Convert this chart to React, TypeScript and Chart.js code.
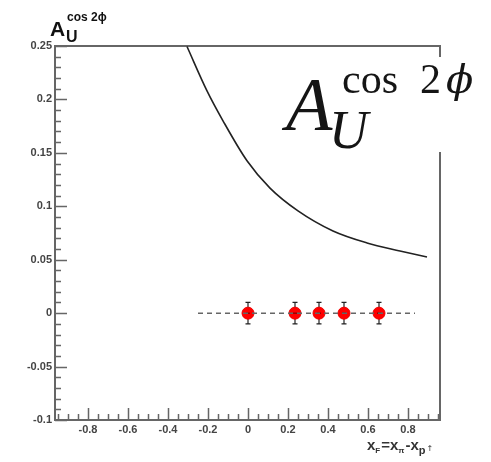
import React, { useEffect, useRef } from "react";
import { Chart, registerables } from "chart.js";

Chart.register(...registerables);

// ---- data ----
const curveX = [-0.305, -0.205, -0.125, -0.005, 0.11, 0.25, 0.425, 0.595, 0.76, 0.895];
const curveY = [0.2495, 0.208, 0.18, 0.1426, 0.117, 0.0957, 0.0769, 0.0657, 0.0582, 0.0525];
const pointX = [0.0, 0.235, 0.355, 0.48, 0.655];
const pointY = [0, 0, 0, 0, 0];
const pointErr = [0.01, 0.01, 0.01, 0.01, 0.01];
const dashX = [-0.25, 0.835];
const dashY = [0, 0];
const xTickValues = [-0.8, -0.6, -0.4, -0.2, 0, 0.2, 0.4, 0.6, 0.8];
const xTickLabels = ["-0.8", "-0.6", "-0.4", "-0.2", "0", "0.2", "0.4", "0.6", "0.8"];
const yTickValues = [-0.1, -0.05, 0, 0.05, 0.1, 0.15, 0.2, 0.25];
const yTickLabels = ["-0.1", "-0.05", "0", "0.05", "0.1", "0.15", "0.2", "0.25"];
const X_MIN = -0.965;
const X_MAX = 0.96;
const Y_MIN = -0.1;
const Y_MAX = 0.25;

const framePlugin = {
  id: "framePlugin",
  beforeDatasetsDraw(chart: any) {
    const { ctx, chartArea, scales } = chart;
    const xs = scales.x;
    const ys = scales.y;
    ctx.save();
    ctx.strokeStyle = "#666";
    ctx.beginPath();
    for (let i = -10; i <= 25; i++) {
      const v = i / 100;
      const major = i % 5 === 0;
      const py = Math.round(ys.getPixelForValue(v)) + 0.5;
      ctx.moveTo(chartArea.left, py);
      ctx.lineTo(chartArea.left + (major ? 12 : 6), py);
    }
    for (let i = -19; i <= 19; i++) {
      const v = i * 0.05;
      if (v < X_MIN || v > X_MAX) continue;
      const major = i % 4 === 0;
      const px = Math.round(xs.getPixelForValue(v)) + 0.5;
      ctx.moveTo(px, chartArea.bottom);
      ctx.lineTo(px, chartArea.bottom - (major ? 12 : 6));
    }
    ctx.lineWidth = 1.5;
    ctx.stroke();
    ctx.lineWidth = 2;
    ctx.strokeRect(chartArea.left, chartArea.top, chartArea.right - chartArea.left, chartArea.bottom - chartArea.top);
    ctx.restore();
  },
  beforeDatasetDraw(chart: any, args: any) {
    if (args.index !== 2) return;
    const { ctx, scales } = chart;
    ctx.save();
    ctx.strokeStyle = "#222";
    ctx.lineWidth = 1.2;
    ctx.beginPath();
    pointX.forEach((x, i) => {
      const px = scales.x.getPixelForValue(x);
      const top = scales.y.getPixelForValue(pointY[i] + pointErr[i]);
      const bot = scales.y.getPixelForValue(pointY[i] - pointErr[i]);
      ctx.moveTo(px, top);
      ctx.lineTo(px, bot);
      ctx.moveTo(px - 2.5, top);
      ctx.lineTo(px + 2.5, top);
      ctx.moveTo(px - 2.5, bot);
      ctx.lineTo(px + 2.5, bot);
    });
    ctx.stroke();
    ctx.restore();
  },
  afterDatasetDraw(chart: any, args: any) {
    if (args.index !== 2) return;
    const { ctx, scales } = chart;
    ctx.save();
    ctx.strokeStyle = "rgba(60,0,0,0.8)";
    ctx.lineWidth = 1;
    ctx.beginPath();
    pointX.forEach((x, i) => {
      const px = scales.x.getPixelForValue(x);
      const py = scales.y.getPixelForValue(pointY[i]);
      ctx.moveTo(px - 2, py);
      ctx.lineTo(px + 2, py);
    });
    ctx.stroke();
    ctx.restore();
  },
  afterDraw(chart: any) {
    const { ctx } = chart;
    ctx.save();
    // white box behind inset label
    ctx.fillStyle = "#ffffff";
    ctx.fillRect(285, 57, 206, 95);
    // inset label
    ctx.fillStyle = "#151515";
    ctx.textBaseline = "alphabetic";
    ctx.textAlign = "left";
    ctx.font = "italic 76px 'Liberation Serif'";
    ctx.fillText("A", 286, 130);
    ctx.font = "italic 54px 'Liberation Serif'";
    ctx.fillText("U", 329, 148);
    ctx.font = "42px 'Liberation Serif'";
    ctx.fillText("cos", 342, 93);
    ctx.fillText("2", 420, 93);
    ctx.font = "italic 40px 'DejaVu Serif'";
    ctx.fillText("\u03D5", 446, 93);

    // y axis title
    ctx.fillStyle = "#111";
    ctx.font = "bold 21px 'Liberation Sans'";
    ctx.fillText("A", 50, 36);
    ctx.font = "bold 16px 'Liberation Sans'";
    ctx.fillText("U", 66, 42);
    ctx.font = "bold 12px 'Liberation Sans'";
    ctx.fillText("cos 2\u03D5", 67, 21);

    // x axis title
    ctx.fillStyle = "#333";
    let x = 367;
    const base = 450;
    const put = (t: string, font: string, dy: number, gap: number) => {
      ctx.font = font;
      ctx.fillText(t, x, base + dy);
      x += ctx.measureText(t).width + gap;
    };
    put("x", "bold 15px 'Liberation Sans'", 0, 0);
    put("F", "bold 8px 'Liberation Sans'", 3, 1);
    put("=", "bold 15px 'Liberation Sans'", 0, 0);
    put("x", "bold 15px 'Liberation Sans'", 0, 0);
    put("\u03C0", "bold 8px 'Liberation Sans'", 3, 1);
    put("-", "bold 15px 'Liberation Sans'", 0, 0);
    put("x", "bold 15px 'Liberation Sans'", 0, 0);
    put("p", "bold 11px 'Liberation Sans'", 4, 1);
    put("\u2191", "8px 'DejaVu Sans'", 1, 0);
    ctx.restore();
  },
};

export default function App() {
  const ref = useRef<HTMLCanvasElement | null>(null);
  useEffect(() => {
    if (!ref.current) return;
    const chart = new Chart(ref.current, {
      type: "scatter",
      data: {
        datasets: [
          {
            type: "line",
            data: curveX.map((x, i) => ({ x, y: curveY[i] })),
            borderColor: "#222",
            borderWidth: 1.6,
            pointRadius: 0,
            cubicInterpolationMode: "monotone",
            fill: false,
          } as any,
          {
            type: "line",
            data: dashX.map((x, i) => ({ x, y: dashY[i] })),
            borderColor: "#666",
            borderWidth: 1.5,
            borderDash: [5, 4],
            pointRadius: 0,
            fill: false,
          } as any,
          {
            type: "scatter",
            data: pointX.map((x, i) => ({ x, y: pointY[i] })),
            backgroundColor: "#ff0000",
            borderColor: "#ee0000",
            borderWidth: 1,
            pointRadius: 6,
          } as any,
        ],
      },
      options: {
        animation: false,
        responsive: false,
        maintainAspectRatio: false,
        layout: { padding: { left: 0, top: 46, right: 51, bottom: 0 } },
        plugins: { legend: { display: false }, tooltip: { enabled: false } },
        scales: {
          x: {
            type: "linear",
            min: X_MIN,
            max: X_MAX,
            grid: { display: false, drawTicks: false },
            border: { display: false },
            afterBuildTicks: (s: any) => {
              s.ticks = xTickValues.map((v) => ({ value: v }));
            },
            afterFit: (s: any) => {
              s.height = 42;
            },
            ticks: {
              padding: 3,
              maxRotation: 0,
              autoSkip: false,
              color: "#444",
              font: { family: "'Liberation Sans'", size: 11, weight: "bold" },
              callback: (_v: any, i: number) => xTickLabels[i],
            },
          },
          y: {
            type: "linear",
            min: Y_MIN,
            max: Y_MAX,
            grid: { display: false, drawTicks: false },
            border: { display: false },
            afterBuildTicks: (s: any) => {
              s.ticks = yTickValues.map((v) => ({ value: v }));
            },
            afterFit: (s: any) => {
              s.width = 55;
            },
            ticks: {
              padding: 3,
              autoSkip: false,
              color: "#444",
              font: { family: "'Liberation Sans'", size: 11, weight: "bold" },
              callback: (_v: any, i: number) => yTickLabels[i],
            },
          },
        },
      },
      plugins: [framePlugin],
    });
    return () => chart.destroy();
  }, []);
  return (
    <div style={{ position: "absolute", left: 0, top: 0, width: 491, height: 462, background: "#fff" }}>
      <canvas ref={ref} width={491} height={462} style={{ width: 491, height: 462 }} />
    </div>
  );
}
